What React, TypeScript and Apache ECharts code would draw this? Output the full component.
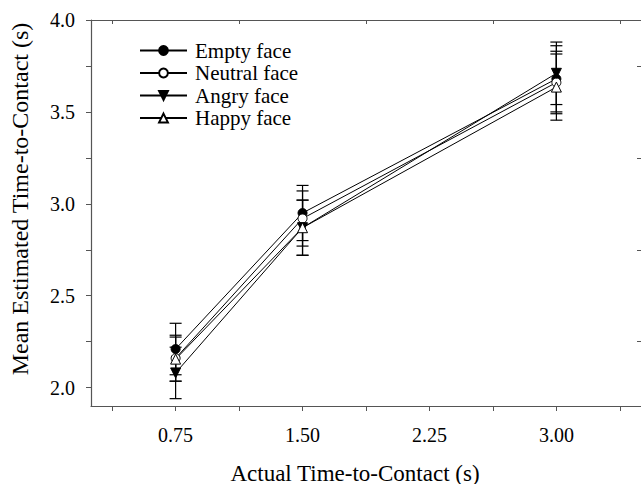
import React, { useEffect, useRef } from "react";
import * as echarts from "echarts";

const actualTTC = [0.75, 1.5, 3.0];

const emptyMean = [2.21, 2.95, 3.68];
const emptyErr = [0.14, 0.15, 0.18];
const neutralMean = [2.16, 2.92, 3.66];
const neutralErr = [0.125, 0.15, 0.17];
const angryMean = [2.08, 2.87, 3.71];
const angryErr = [0.14, 0.15, 0.17];
const happyMean = [2.155, 2.87, 3.635];
const happyErr = [0.12, 0.15, 0.18];

const seriesNames = ["Empty face", "Neutral face", "Angry face", "Happy face"];

const xTickValues = [0.375, 0.75, 1.125, 1.5, 1.875, 2.25, 2.625, 3.0, 3.375];
const xLabelValues = [0.75, 1.5, 2.25, 3.0];
const xMinorValues = [0.375, 1.125, 1.875, 2.625, 3.375];
const yTickValues = [2.0, 2.25, 2.5, 2.75, 3.0, 3.25, 3.5, 3.75, 4.0];
const yLabelValues = [2.0, 2.5, 3.0, 3.5, 4.0];
const yMinorValues = [2.25, 2.75, 3.25, 3.75];

const FONT = "'Liberation Serif', 'Times New Roman', serif";
const AXIS_COLOR = "#555";

export default function App() {
  const ref = useRef<HTMLDivElement>(null);

  useEffect(() => {
    if (!ref.current) return;
    const chart = echarts.init(ref.current, null, { renderer: "svg" });

    const means = [emptyMean, neutralMean, angryMean, happyMean];
    const errs = [emptyErr, neutralErr, angryErr, happyErr];
    const symbols = ["circle", "circle", "triangle", "triangle"];
    const rotates = [0, 0, 180, 0];
    const fills = ["#000", "#fff", "#000", "#fff"];

    const errorSeries = means.map((m, si) => ({
      type: "custom",
      name: seriesNames[si] + " err",
      xAxisIndex: 0,
      yAxisIndex: 0,
      z: 1,
      silent: true,
      data: actualTTC.map((x, i) => [x, m[i] - errs[si][i], m[i] + errs[si][i]]),
      renderItem: (params: any, api: any) => {
        const x = api.value(0);
        const lo = api.coord([x, api.value(1)]);
        const hi = api.coord([x, api.value(2)]);
        const hw = 6;
        const style = { stroke: "#000", lineWidth: 1.2 };
        return {
          type: "group",
          children: [
            { type: "line", shape: { x1: lo[0], y1: lo[1], x2: hi[0], y2: hi[1] }, style },
            { type: "line", shape: { x1: lo[0] - hw, y1: lo[1], x2: lo[0] + hw, y2: lo[1] }, style },
            { type: "line", shape: { x1: hi[0] - hw, y1: hi[1], x2: hi[0] + hw, y2: hi[1] }, style },
          ],
        };
      },
    }));

    const lineSeries = means.map((m, si) => ({
      type: "line",
      name: seriesNames[si],
      xAxisIndex: 0,
      yAxisIndex: 0,
      z: 3,
      data: actualTTC.map((x, i) => [x, m[i]]),
      symbol: symbols[si],
      symbolRotate: rotates[si],
      symbolSize: si >= 2 ? 10 : 9,
      showAllSymbol: true,
      lineStyle: { color: "#000", width: 1 },
      itemStyle: { color: fills[si], borderColor: "#000", borderWidth: 1 },
      emphasis: { disabled: true },
    }));

    chart.setOption({
      animation: false,
      backgroundColor: "#fff",
      grid: { left: 91, top: 20, width: 551, height: 386, containLabel: false },
      legend: {
        data: seriesNames,
        orient: "vertical",
        left: 134,
        top: 35,
        itemWidth: 47,
        itemHeight: 11,
        itemGap: 1.5,
        textStyle: {
          fontFamily: FONT,
          fontSize: 21,
          color: "#000",
          lineHeight: 21,
          padding: [0, 0, 0, 3],
        },
        selectedMode: false,
      },
      xAxis: [
        {
          type: "value",
          position: "bottom",
          min: 0.25,
          max: 3.5,
          axisLine: { show: true, lineStyle: { color: AXIS_COLOR, width: 1.2 } },
          axisTick: {
            show: true,
            inside: false,
            length: 5,
            customValues: xTickValues,
            lineStyle: { color: AXIS_COLOR },
          },
          axisLabel: {
            customValues: xLabelValues,
            formatter: (v: number) => v.toFixed(2),
            fontFamily: FONT,
            fontSize: 20,
            color: "#000",
            margin: 19,
          },
          splitLine: { show: false },
        },
        {
          type: "value",
          position: "top",
          min: 0.25,
          max: 3.5,
          axisLine: { show: true, lineStyle: { color: AXIS_COLOR, width: 1.2 } },
          axisTick: {
            show: true,
            inside: true,
            length: 4,
            customValues: xMinorValues,
            lineStyle: { color: AXIS_COLOR },
          },
          axisLabel: { show: false },
          splitLine: { show: false },
        },
      ],
      yAxis: [
        {
          type: "value",
          position: "left",
          min: 1.9,
          max: 4.0,
          axisLine: { show: true, lineStyle: { color: AXIS_COLOR, width: 1.2 } },
          axisTick: {
            show: true,
            inside: false,
            length: 5,
            customValues: yTickValues,
            lineStyle: { color: AXIS_COLOR },
          },
          axisLabel: {
            customValues: yLabelValues,
            formatter: (v: number) => v.toFixed(1),
            fontFamily: FONT,
            fontSize: 20,
            color: "#000",
            margin: 16,
          },
          splitLine: { show: false },
        },
        {
          type: "value",
          position: "right",
          min: 1.9,
          max: 4.0,
          axisLine: { show: false },
          axisTick: {
            show: true,
            inside: true,
            length: 4,
            customValues: yMinorValues,
            lineStyle: { color: AXIS_COLOR },
          },
          axisLabel: { show: false },
          splitLine: { show: false },
        },
      ],
      graphic: [
        {
          type: "text",
          x: 355,
          y: 473,
          style: {
            text: "Actual Time-to-Contact (s)",
            fontFamily: FONT,
            fontSize: 23,
            fill: "#000",
            align: "center",
            verticalAlign: "middle",
          },
        },
        {
          type: "text",
          x: 20,
          y: 199,
          rotation: Math.PI / 2,
          style: {
            text: "Mean Estimated Time-to-Contact (s)",
            fontFamily: FONT,
            fontSize: 24,
            fill: "#000",
            align: "center",
            verticalAlign: "middle",
          },
        },
      ],
      series: [...errorSeries, ...lineSeries],
    } as any);

    return () => chart.dispose();
  }, []);

  return (
    <div
      ref={ref}
      style={{ position: "absolute", left: 0, top: 0, width: 641, height: 484 }}
    />
  );
}
